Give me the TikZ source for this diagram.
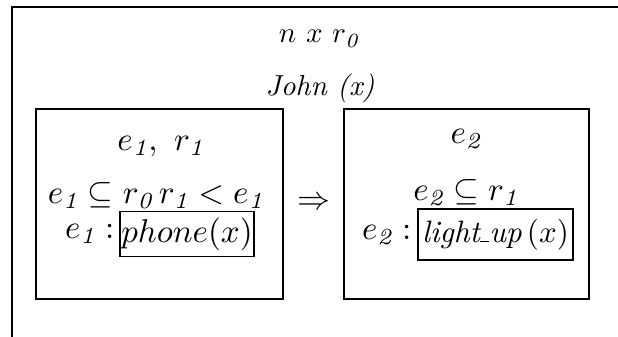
\documentclass[tikz,border=0pt]{standalone}
\usepackage{fontspec}
\tikzset{
  big/.style={scale=3.3, inner sep=0pt},
  mid/.style={scale=2.9, inner sep=0pt},
  drsbox/.style={draw, line width=2.2pt, inner sep=0pt},
  pred/.style={draw, line width=1.8pt, inner sep=0pt},
}
\newcommand{\sbi}[1]{_{\mathit{#1}}}
\begin{document}
\begin{tikzpicture}[x=1pt,y=-1pt]
\useasboundingbox (0,0) rectangle (618,337);
\coordinate (obl) at (12,337);
\coordinate (otl) at (12,7);
\coordinate (otr) at (620,7);
\draw[line width=1.8pt] (obl) -- (otl) -- (otr);
\node[mid] (top) at (319,39) {$n\ x\ r\sbi{0}$};
\node[scale=2.9, inner sep=0pt, font=\itshape] (john) at (320,88) {John (x)};
\node[drsbox, minimum width=247, minimum height=190] (lbox) at (159.5,204) {};
\node[drsbox, minimum width=245, minimum height=190] (rbox) at (466.5,204) {};
\node[big] (arr) at (314,203) {$\Rightarrow$};
% left box
\node[big] (l1) at (161,147) {$e\sbi{1},\ r\sbi{1}$};
\node[big] (l2) at (156,196) {$e\sbi{1}\subseteq r\sbi{0}\,r\sbi{1} < e\sbi{1}$};
\node[pred, minimum width=134, minimum height=45] (lp) at (187,234) {};
\node[big] at (lp) {$phone(x)$};
\node[big, anchor=east] (l3) at (115,234) {$e\sbi{1}:$};
% right box
\node[big] (r1) at (466,139) {$e\sbi{2}$};
\node[big] (r2) at (466,193) {$e\sbi{2}\subseteq r\sbi{1}$};
\node[pred, minimum width=155, minimum height=51] (rp) at (495.5,234.5) {};
\node[scale=3.1, inner sep=0pt] at (rp) {{\itshape light\rule{0.3em}{0.04em}up}\,$(x)$};
\node[big, anchor=east] (r3) at (412,235) {$e\sbi{2}:$};
\end{tikzpicture}
\end{document}
